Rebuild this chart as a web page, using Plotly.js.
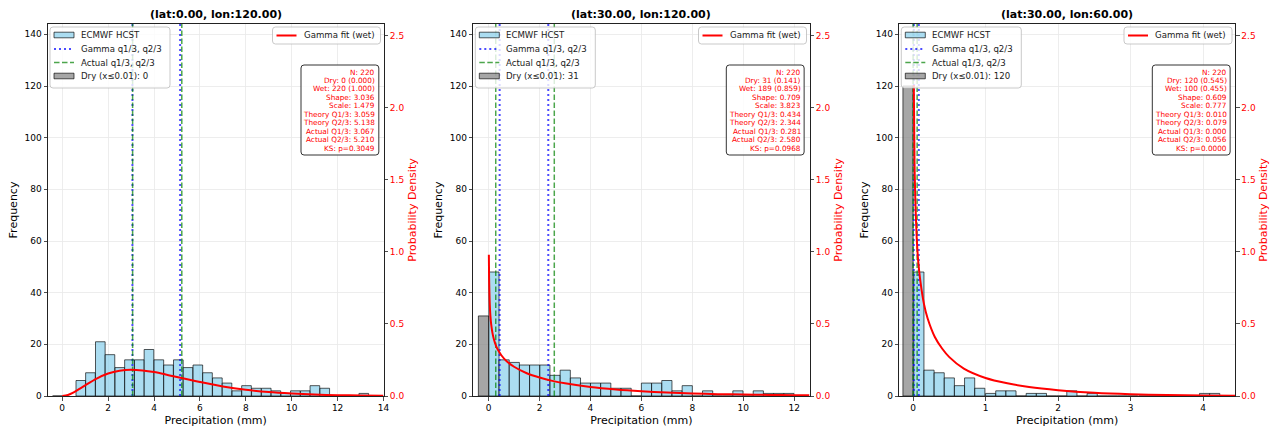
<!DOCTYPE html>
<html><head><meta charset="utf-8">
<script src="https://cdn.plot.ly/plotly-3.0.1.min.js"></script>
<style>html,body{margin:0;padding:0;background:#fff}#chart{width:1278px;height:431px}</style>
</head><body><div id="chart"></div>
<script>
// ---------------- data ----------------
const titles = ["(lat:0.00, lon:120.00)", "(lat:30.00, lon:120.00)", "(lat:30.00, lon:60.00)"];

// histogram bin centres (mm) and counts of wet days
const p1BinCenters = [0.81,1.23,1.66,2.08,2.51,2.93,3.36,3.78,4.21,4.63,5.06,5.48,5.91,6.33,6.76,7.18,7.61,8.03,8.46,8.89,9.31,9.74,10.16,10.59,11.01,11.44,11.86,12.29,12.71,13.14];
const p1Counts     = [6,9,21,16,11,14,14,18,14,12,14,11,12,9,7,5,2,4,3,3,2,1,2,2,4,3,0,0,0,1];
const p2BinCenters = [0.21,0.61,1.01,1.41,1.81,2.21,2.61,3.01,3.41,3.80,4.20,4.60,5.00,5.40,5.80,6.20,6.60,7.00,7.40,7.80,8.20,8.60,8.99,9.39,9.79,10.19,10.59,10.99,11.39,11.79];
const p2Counts     = [48,14,13,12,12,12,8,10,7,5,5,5,3,3,0,5,5,6,2,4,0,2,0,0,2,0,2,1,1,1];
const p3BinCenters = [0.08,0.22,0.36,0.50,0.64,0.78,0.92,1.07,1.21,1.35,1.49,1.63,1.77,1.91,2.05,2.19,2.33,2.47,2.61,2.75,2.89,3.03,3.18,3.32,3.46,3.60,3.74,3.88,4.02,4.16];
const p3Counts     = [48,10,9,7,4,7,3,1,2,2,0,1,1,0,0,2,0,1,0,0,0,0,0,0,0,0,0,0,1,1];

// statistics per panel
const totalN     = [220, 220, 220];
const dryCounts  = [0, 31, 120];
const dryFrac    = [0.000, 0.141, 0.545];
const wetCounts  = [220, 189, 100];
const wetFrac    = [1.000, 0.859, 0.455];
const gammaShape = [3.036, 0.709, 0.609];
const gammaScale = [1.479, 3.823, 0.777];
const theoryQ13  = [3.059, 0.434, 0.010];
const theoryQ23  = [5.138, 2.344, 0.079];
const actualQ13  = [3.067, 0.281, 0.000];
const actualQ23  = [5.210, 2.580, 0.056];
const ksP        = [0.3049, 0.0968, 0.0000];

// gamma fit curves (probability density)
const p1FitX = [0,0.25,0.5,0.75,1.0,1.5,2.0,2.5,3.0,3.5,4.0,4.5,5.0,5.5,6.0,7.0,8.0,9.0,10.0,11.0,12.0,13.0,14.0];
const p1FitY = [0,0.007,0.025,0.049,0.074,0.121,0.156,0.175,0.182,0.177,0.166,0.150,0.132,0.114,0.097,0.066,0.043,0.027,0.017,0.010,0.006,0.003,0.002];
const p2FitX = [0.011,0.02,0.04,0.07,0.1,0.15,0.2,0.3,0.4,0.5,0.7,1.0,1.5,2.0,2.5,3.0,4.0,5.0,6.0,7.0,8.0,9.0,10.0,11.0,12.0,12.6];
const p2FitY = [0.98,0.82,0.67,0.56,0.50,0.44,0.40,0.345,0.31,0.283,0.243,0.203,0.158,0.128,0.105,0.088,0.062,0.045,0.033,0.024,0.018,0.013,0.0099,0.0074,0.0055,0.0046];
const p3FitX = [0.010,0.02,0.03,0.05,0.07,0.1,0.15,0.2,0.3,0.4,0.5,0.7,1.0,1.3,1.6,2.0,2.5,3.0,3.5,4.0,4.44];
const p3FitY = [2.16,1.62,1.38,1.10,0.94,0.80,0.64,0.54,0.41,0.33,0.27,0.19,0.125,0.088,0.062,0.040,0.022,0.012,0.007,0.004,0.002];

// ---------------- layout geometry ----------------
const W = 1278, H = 431;
const M = {l: 48, r: 43, t: 24, b: 35};
const IW = W - M.l - M.r, IH = H - M.t - M.b;
const pxL = [48, 473.3, 899.3], pxR = [383.5, 809.5, 1235];
const xRanges = [[-0.62, 14.0], [-0.6, 12.6], [-0.19, 4.44]];
const xDticks = [2, 2, 1];
const yMax = 144, y2Max = 2.583;
const FONT = "DejaVu Sans, Verdana, sans-serif";

const panels = [
  {c: p1BinCenters, n: p1Counts, fx: p1FitX, fy: p1FitY},
  {c: p2BinCenters, n: p2Counts, fx: p2FitX, fy: p2FitY},
  {c: p3BinCenters, n: p3Counts, fx: p3FitX, fy: p3FitY}
];

const PX = v => (v - M.l) / IW;          // absolute px -> paper x
const PY = v => 1 - (v - M.t) / IH;      // absolute px (from top) -> paper y

function rr(x0, y0, x1, y1, r) {
  const X = PX, Y = PY;
  return `M ${X(x0+r)},${Y(y0)} L ${X(x1-r)},${Y(y0)} Q ${X(x1)},${Y(y0)} ${X(x1)},${Y(y0+r)} ` +
         `L ${X(x1)},${Y(y1-r)} Q ${X(x1)},${Y(y1)} ${X(x1-r)},${Y(y1)} L ${X(x0+r)},${Y(y1)} ` +
         `Q ${X(x0)},${Y(y1)} ${X(x0)},${Y(y1-r)} L ${X(x0)},${Y(y0+r)} Q ${X(x0)},${Y(y0)} ${X(x0+r)},${Y(y0)} Z`;
}
const cv = document.createElement('canvas').getContext('2d');
function textW(s, size) { cv.font = size + "px 'DejaVu Sans'"; return cv.measureText(s).width; }

const traces = [], shapes = [], annotations = [];
const layout = {
  width: W, height: H, margin: M, showlegend: false, hovermode: false,
  paper_bgcolor: '#fff', plot_bgcolor: '#fff', barmode: 'overlay', bargap: 0,
  font: {family: FONT, color: '#000'}
};

const WET_FILL = 'rgba(135,206,235,0.7)', DRY_FILL = 'rgba(128,128,128,0.7)', EDGE = 'rgba(0,0,0,0.65)';
const BLUE = 'rgba(0,0,255,0.7)', GREEN = 'rgba(0,128,0,0.7)';

panels.forEach((p, i) => {
  const xs = i === 0 ? '' : String(i + 1);
  const xa = 'x' + xs;
  const yL = 'y' + (i === 0 ? '' : String(2 * i + 1));
  const yR = 'y' + (2 * i + 2);
  const bw = p.c[1] - p.c[0];

  traces.push({type: 'bar', x: p.c, y: p.n, width: bw, xaxis: xa, yaxis: yL,
    marker: {color: WET_FILL, line: {color: EDGE, width: 1}}});
  traces.push({type: 'bar', x: [-bw / 2], y: [dryCounts[i]], width: bw, xaxis: xa, yaxis: yL,
    marker: {color: DRY_FILL, line: {color: EDGE, width: 1}}});
  traces.push({type: 'scatter', mode: 'lines', xaxis: xa, yaxis: yL,
    x: [theoryQ13[i], theoryQ13[i], null, theoryQ23[i], theoryQ23[i]], y: [0, yMax, null, 0, yMax],
    line: {color: BLUE, width: 2, dash: '2px,3px'}});
  traces.push({type: 'scatter', mode: 'lines', xaxis: xa, yaxis: yL,
    x: [actualQ13[i], actualQ13[i], null, actualQ23[i], actualQ23[i]], y: [0, yMax, null, 0, yMax],
    line: {color: GREEN, width: 1.5, dash: '5.5px,2.5px'}});
  traces.push({type: 'scatter', mode: 'lines', xaxis: xa, yaxis: yR, x: p.fx, y: p.fy,
    line: {color: 'red', width: 2, shape: 'spline', smoothing: 0.8}});

  const dom = [(pxL[i] - M.l) / IW, (pxR[i] - M.l) / IW];
  const axCommon = {showline: true, linecolor: '#222', linewidth: 1, ticks: 'outside', ticklen: 3.5,
    tickwidth: 0.8, tickcolor: '#222', zeroline: false};
  layout['xaxis' + xs] = Object.assign({}, axCommon, {domain: dom, range: xRanges[i], dtick: xDticks[i], tick0: 0,
    anchor: yL, mirror: true, showgrid: true, gridcolor: '#e8e8e8', gridwidth: 0.8,
    tickfont: {size: 9, color: '#000'},
    title: {text: 'Precipitation (mm)', font: {size: 11, color: '#000'}, standoff: 4}});
  layout['yaxis' + (i === 0 ? '' : String(2 * i + 1))] = Object.assign({}, axCommon, {domain: [0, 1], range: [0, yMax],
    dtick: 20, tick0: 0, anchor: xa, showgrid: true, gridcolor: '#e8e8e8', gridwidth: 0.8,
    tickfont: {size: 9, color: '#000'},
    title: {text: 'Frequency', font: {size: 11, color: '#000'}, standoff: 4}});
  layout['yaxis' + (2 * i + 2)] = Object.assign({}, axCommon, {overlaying: yL, side: 'right', anchor: xa,
    range: [0, y2Max], dtick: 0.5, tick0: 0, tickformat: '.1f', showgrid: false,
    tickfont: {size: 9, color: 'red'},
    title: {text: 'Probability Density', font: {size: 11, color: 'red'}, standoff: 4}});

  // panel title
  annotations.push({xref: 'paper', yref: 'paper', x: PX((pxL[i] + pxR[i]) / 2), y: PY(14),
    xanchor: 'center', yanchor: 'middle', showarrow: false, text: '<b>' + titles[i] + '</b>',
    font: {size: 11, family: FONT, color: '#000'}});

  // ---- upper-left legend ----
  const ox = pxL[i], oy = M.t, R = pxR[i];
  const LF = 8.6;
  shapes.push({type: 'path', xref: 'paper', yref: 'paper', layer: 'above', path: rr(ox + 2, oy + 3, ox + 122, oy + 64, 3),
    fillcolor: 'rgba(255,255,255,0.8)', line: {color: 'rgba(180,180,180,0.9)', width: 0.8}});
  const rows = [oy + 11, oy + 25, oy + 38.5, oy + 52];
  shapes.push({type: 'rect', xref: 'paper', yref: 'paper', layer: 'above', x0: PX(ox + 6), x1: PX(ox + 26),
    y0: PY(rows[0] - 2.8), y1: PY(rows[0] + 2.8), fillcolor: WET_FILL, line: {color: EDGE, width: 1}});
  shapes.push({type: 'line', xref: 'paper', yref: 'paper', layer: 'above', x0: PX(ox + 6), x1: PX(ox + 26),
    y0: PY(rows[1]), y1: PY(rows[1]), line: {color: BLUE, width: 2, dash: '2px,3px'}});
  shapes.push({type: 'line', xref: 'paper', yref: 'paper', layer: 'above', x0: PX(ox + 6), x1: PX(ox + 26),
    y0: PY(rows[2]), y1: PY(rows[2]), line: {color: GREEN, width: 1.5, dash: '5.5px,2.5px'}});
  shapes.push({type: 'rect', xref: 'paper', yref: 'paper', layer: 'above', x0: PX(ox + 6), x1: PX(ox + 26),
    y0: PY(rows[3] - 2.8), y1: PY(rows[3] + 2.8), fillcolor: DRY_FILL, line: {color: EDGE, width: 1}});
  const legTexts = ['ECMWF HCST', 'Gamma q1/3, q2/3', 'Actual q1/3, q2/3', 'Dry (x\u22640.01): ' + dryCounts[i]];
  legTexts.forEach((t, k) => annotations.push({xref: 'paper', yref: 'paper', x: PX(ox + 33), y: PY(rows[k]),
    xanchor: 'left', yanchor: 'middle', showarrow: false, text: t, borderpad: 0, borderwidth: 0,
    font: {size: LF, family: FONT, color: '#1a1a1a'}}));

  // ---- upper-right legend ----
  shapes.push({type: 'path', xref: 'paper', yref: 'paper', layer: 'above', path: rr(R - 111, oy + 3, R - 3, oy + 20, 3),
    fillcolor: 'rgba(255,255,255,0.8)', line: {color: 'rgba(180,180,180,0.9)', width: 0.8}});
  shapes.push({type: 'line', xref: 'paper', yref: 'paper', layer: 'above', x0: PX(R - 107), x1: PX(R - 87),
    y0: PY(oy + 11.5), y1: PY(oy + 11.5), line: {color: 'red', width: 2}});
  annotations.push({xref: 'paper', yref: 'paper', x: PX(R - 80), y: PY(oy + 11.5), xanchor: 'left', yanchor: 'middle',
    showarrow: false, text: 'Gamma fit (wet)', borderpad: 0, borderwidth: 0, font: {size: LF, family: FONT, color: '#1a1a1a'}});

  // ---- statistics box ----
  const SF = 7.3;
  const lines = [
    'N: ' + totalN[i],
    'Dry: ' + dryCounts[i] + ' (' + dryFrac[i].toFixed(3) + ')',
    'Wet: ' + wetCounts[i] + ' (' + wetFrac[i].toFixed(3) + ')',
    'Shape: ' + gammaShape[i].toFixed(3),
    'Scale: ' + gammaScale[i].toFixed(3),
    'Theory Q1/3: ' + theoryQ13[i].toFixed(3),
    'Theory Q2/3: ' + theoryQ23[i].toFixed(3),
    'Actual Q1/3: ' + actualQ13[i].toFixed(3),
    'Actual Q2/3: ' + actualQ23[i].toFixed(3),
    'KS: p=' + ksP[i].toFixed(4)
  ];
  const maxW = Math.max(...lines.map(s => textW(s, SF)));
  const bx0 = ox + 253, bx1 = bx0 + maxW + 7, by0 = oy + 41, by1 = oy + 131;
  shapes.push({type: 'path', xref: 'paper', yref: 'paper', layer: 'above', path: rr(bx0, by0, bx1, by1, 3),
    fillcolor: 'rgba(255,255,255,0.8)', line: {color: '#333', width: 1}});
  lines.forEach((t, k) => annotations.push({xref: 'paper', yref: 'paper', x: PX(bx1 - 3.5), y: PY(by0 + 7 + k * 8.48),
    xanchor: 'right', yanchor: 'middle', showarrow: false, text: t, borderpad: 0, borderwidth: 0,
    font: {size: SF, family: FONT, color: 'red'}}));
});

layout.shapes = shapes;
layout.annotations = annotations;
Plotly.newPlot('chart', traces, layout, {displayModeBar: false, staticPlot: true});
</script>
</body></html>
